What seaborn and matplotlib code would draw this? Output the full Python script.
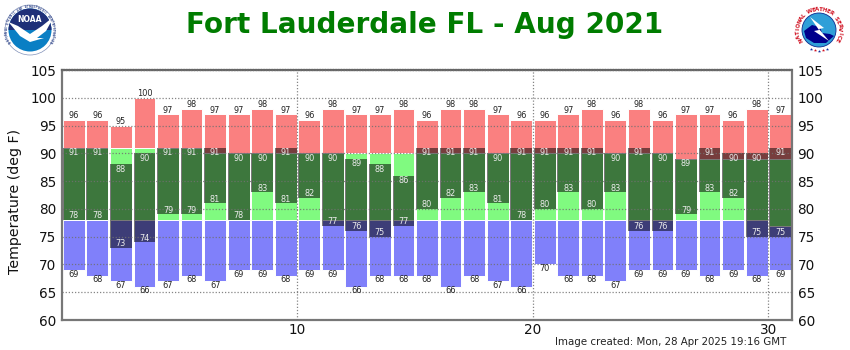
import numpy as np
import pandas as pd
import seaborn as sns
import matplotlib
matplotlib.use("Agg")
import matplotlib.pyplot as plt
from matplotlib.patches import Circle, Polygon, Wedge

# daily values, Aug 2021
days = np.arange(1, 32)
record_high = [96, 96, 95, 100, 97, 98, 97, 97, 98, 97, 96, 98, 97, 97, 98, 96,
               98, 98, 97, 96, 96, 97, 98, 96, 98, 96, 97, 97, 96, 98, 97]
record_low = [69, 68, 67, 66, 67, 68, 67, 69, 69, 68, 69, 69, 66, 68, 68, 68,
              66, 68, 67, 66, 70, 68, 68, 67, 69, 69, 69, 68, 69, 68, 69]
normal_high = [91, 91, 91, 91, 91, 91, 90, 90, 90, 90, 90, 90, 90, 90, 90, 90,
               90, 90, 90, 90, 90, 90, 90, 90, 90, 90, 89, 89, 89, 89, 89]
normal_low = [78, 78, 78, 78, 78, 78, 78, 78, 78, 78, 78, 78, 78, 78, 78, 78,
              78, 78, 78, 78, 78, 78, 78, 78, 78, 78, 78, 78, 78, 78, 77]
obs_high = [91, 91, 88, 90, 91, 91, 91, 90, 90, 91, 90, 90, 89, 88, 86, 91,
            91, 91, 90, 91, 91, 91, 91, 90, 91, 90, 89, 91, 90, 90, 91]
obs_low = [78, 78, 73, 74, 79, 79, 81, 78, 83, 81, 82, 77, 76, 75, 77, 80,
           82, 83, 81, 78, 80, 83, 80, 83, 76, 76, 79, 83, 82, 75, 75]

df = pd.DataFrame({"pos": days - 0.5, "record_high": record_high, "record_low": record_low,
                   "normal_high": normal_high, "normal_low": normal_low,
                   "obs_high": obs_high, "obs_low": obs_low})

sns.set_style("white")
plt.rcParams["font.family"] = ["DejaVu Sans"]

fig = plt.figure(figsize=(8.5, 3.5), dpi=100)
ax = fig.add_axes([62 / 850, 30 / 350, 730 / 850, 250 / 350])


def band(low, high, color, alpha=1.0, edge=(1, 1, 1, 0.35)):
    sns.barplot(x=df["pos"], y=df[high] - df[low], bottom=df[low], ax=ax, native_scale=True,
                width=0.925, color=color, saturation=1, alpha=alpha, errorbar=None,
                edgecolor=edge, linewidth=0.7)


band("record_low", "normal_low", "#8080fa")
band("normal_low", "normal_high", "#80fa80")
band("normal_high", "record_high", "#fa8080")
band("obs_low", "obs_high", "#000000", alpha=0.52, edge="none")

# labels above/below the bands
for row in df.itertuples():
    ax.annotate(row.record_high, (row.pos, row.record_high), xytext=(0, 3), textcoords="offset points",
                ha="center", va="center", fontsize=5.9, color="#222222")
    ax.annotate(row.record_low, (row.pos, row.record_low), xytext=(0, -3), textcoords="offset points",
                ha="center", va="center", fontsize=5.9, color="#222222")
    ax.annotate(row.obs_high, (row.pos, row.obs_high), xytext=(0, -3.4), textcoords="offset points",
                ha="center", va="center", fontsize=5.9, color="#ececec")
    ax.annotate(row.obs_low, (row.pos, row.obs_low), xytext=(0, 3), textcoords="offset points",
                ha="center", va="center", fontsize=5.9, color="#ececec")

ax.set_xlim(0, 31)
ax.set_ylim(60, 105)
ax.set_xticks([10, 20, 30])
ax.set_yticks(range(60, 106, 5))
ax.set_axisbelow(False)
ax.grid(True, color="#707070", linestyle=(0, (1, 1.5)), linewidth=0.9, alpha=0.85)
ax.tick_params(axis="both", length=0, labelsize=9.8, labelcolor="#111111")
ax.tick_params(axis="y", labelright=True, right=False, pad=4)
ax.tick_params(axis="x", pad=2)
ax.set_xlabel("")
ax.set_ylabel("Temperature (deg F)", fontsize=10.2, color="#111111")
ax.yaxis.set_label_coords(-40 / 730, 0.472)

for side in ["left", "bottom", "right"]:
    ax.spines[side].set_visible(True)
    ax.spines[side].set_color("#777777")
    ax.spines[side].set_linewidth(1.6)
ax.spines["top"].set_visible(True)
ax.spines["top"].set_color("#666666")
ax.spines["top"].set_linewidth(1.6)
ax.spines["top"].set_linestyle((0, (0.7, 0.5)))

fig.text(424.5 / 850, 1 - 25 / 350, "Fort Lauderdale FL - Aug 2021", ha="center", va="center",
         fontsize=20.1, fontweight="bold", color="#007c00")
fig.text(786 / 850, 1 - 342 / 350, "Image created: Mon, 28 Apr 2025 19:16 GMT", ha="right", va="center",
         fontsize=7.4, color="#222222")

# logos, drawn in pixel coordinates on a full-figure layer
logo = fig.add_axes([0, 0, 1, 1], zorder=5)
logo.set_xlim(0, 850)
logo.set_ylim(350, 0)
logo.axis("off")


def ring_text(text, cx, cy, r, start, stop, color, size):
    for ch, deg in zip(text, np.linspace(start, stop, len(text))):
        a = np.radians(deg)
        logo.text(cx + r * np.sin(a), cy - r * np.cos(a), ch, rotation=-deg, rotation_mode="anchor",
                  ha="center", va="center", fontsize=size, color=color, fontweight="bold")


# NOAA
logo.add_patch(Circle((30, 30), 25, fc="white", ec="#8090b8", lw=0.5))
logo.add_patch(Circle((30, 30), 21.5, fc="#0a7fc4", ec="none"))
logo.add_patch(Wedge((30, 30), 21.5, 180, 360, fc="#1f2f78", ec="none"))
logo.add_patch(Polygon([[8.5, 22], [18, 26], [30, 34], [42, 26], [52, 18], [52, 20], [46, 31], [37, 38],
                        [44, 38], [30, 42], [20, 36]], fc="white", ec="none"))
logo.text(30, 19, "NOAA", ha="center", va="center", fontsize=5.5, color="white", fontweight="bold")
ring_text("NATIONAL OCEANIC AND ATMOSPHERIC ADMINISTRATION", 30, 30, 23.2, -120, 120, "#3a4f90", 1.8)

# NWS
logo.add_patch(Circle((819, 30), 24, fc="white", ec="none"))
logo.add_patch(Circle((819, 30), 17, fc="#2f9fd8", ec="#0a2a90", lw=0.6))
logo.add_patch(Polygon([[804, 31], [812, 25], [820, 27], [822, 33], [830, 34], [834, 36], [826, 43],
                        [814, 43], [806, 38]], fc="#00008c", ec="none"))
logo.add_patch(Polygon([[810, 17], [824, 28], [819, 29], [829, 41], [814, 31], [819, 30]], fc="white", ec="none"))
ring_text("NATIONAL WEATHER SERVICE", 819, 30, 20.8, -118, 118, "#d01020", 4.0)
for deg in (-24, -12, 0, 12, 24):
    a = np.radians(deg)
    logo.plot(819 + 20.5 * np.sin(a), 30 + 20.5 * np.cos(a), marker="*", ms=2.4,
              color="#d01020" if deg % 24 else "#1030a0", mew=0)

fig.savefig("out.png", dpi=100)
